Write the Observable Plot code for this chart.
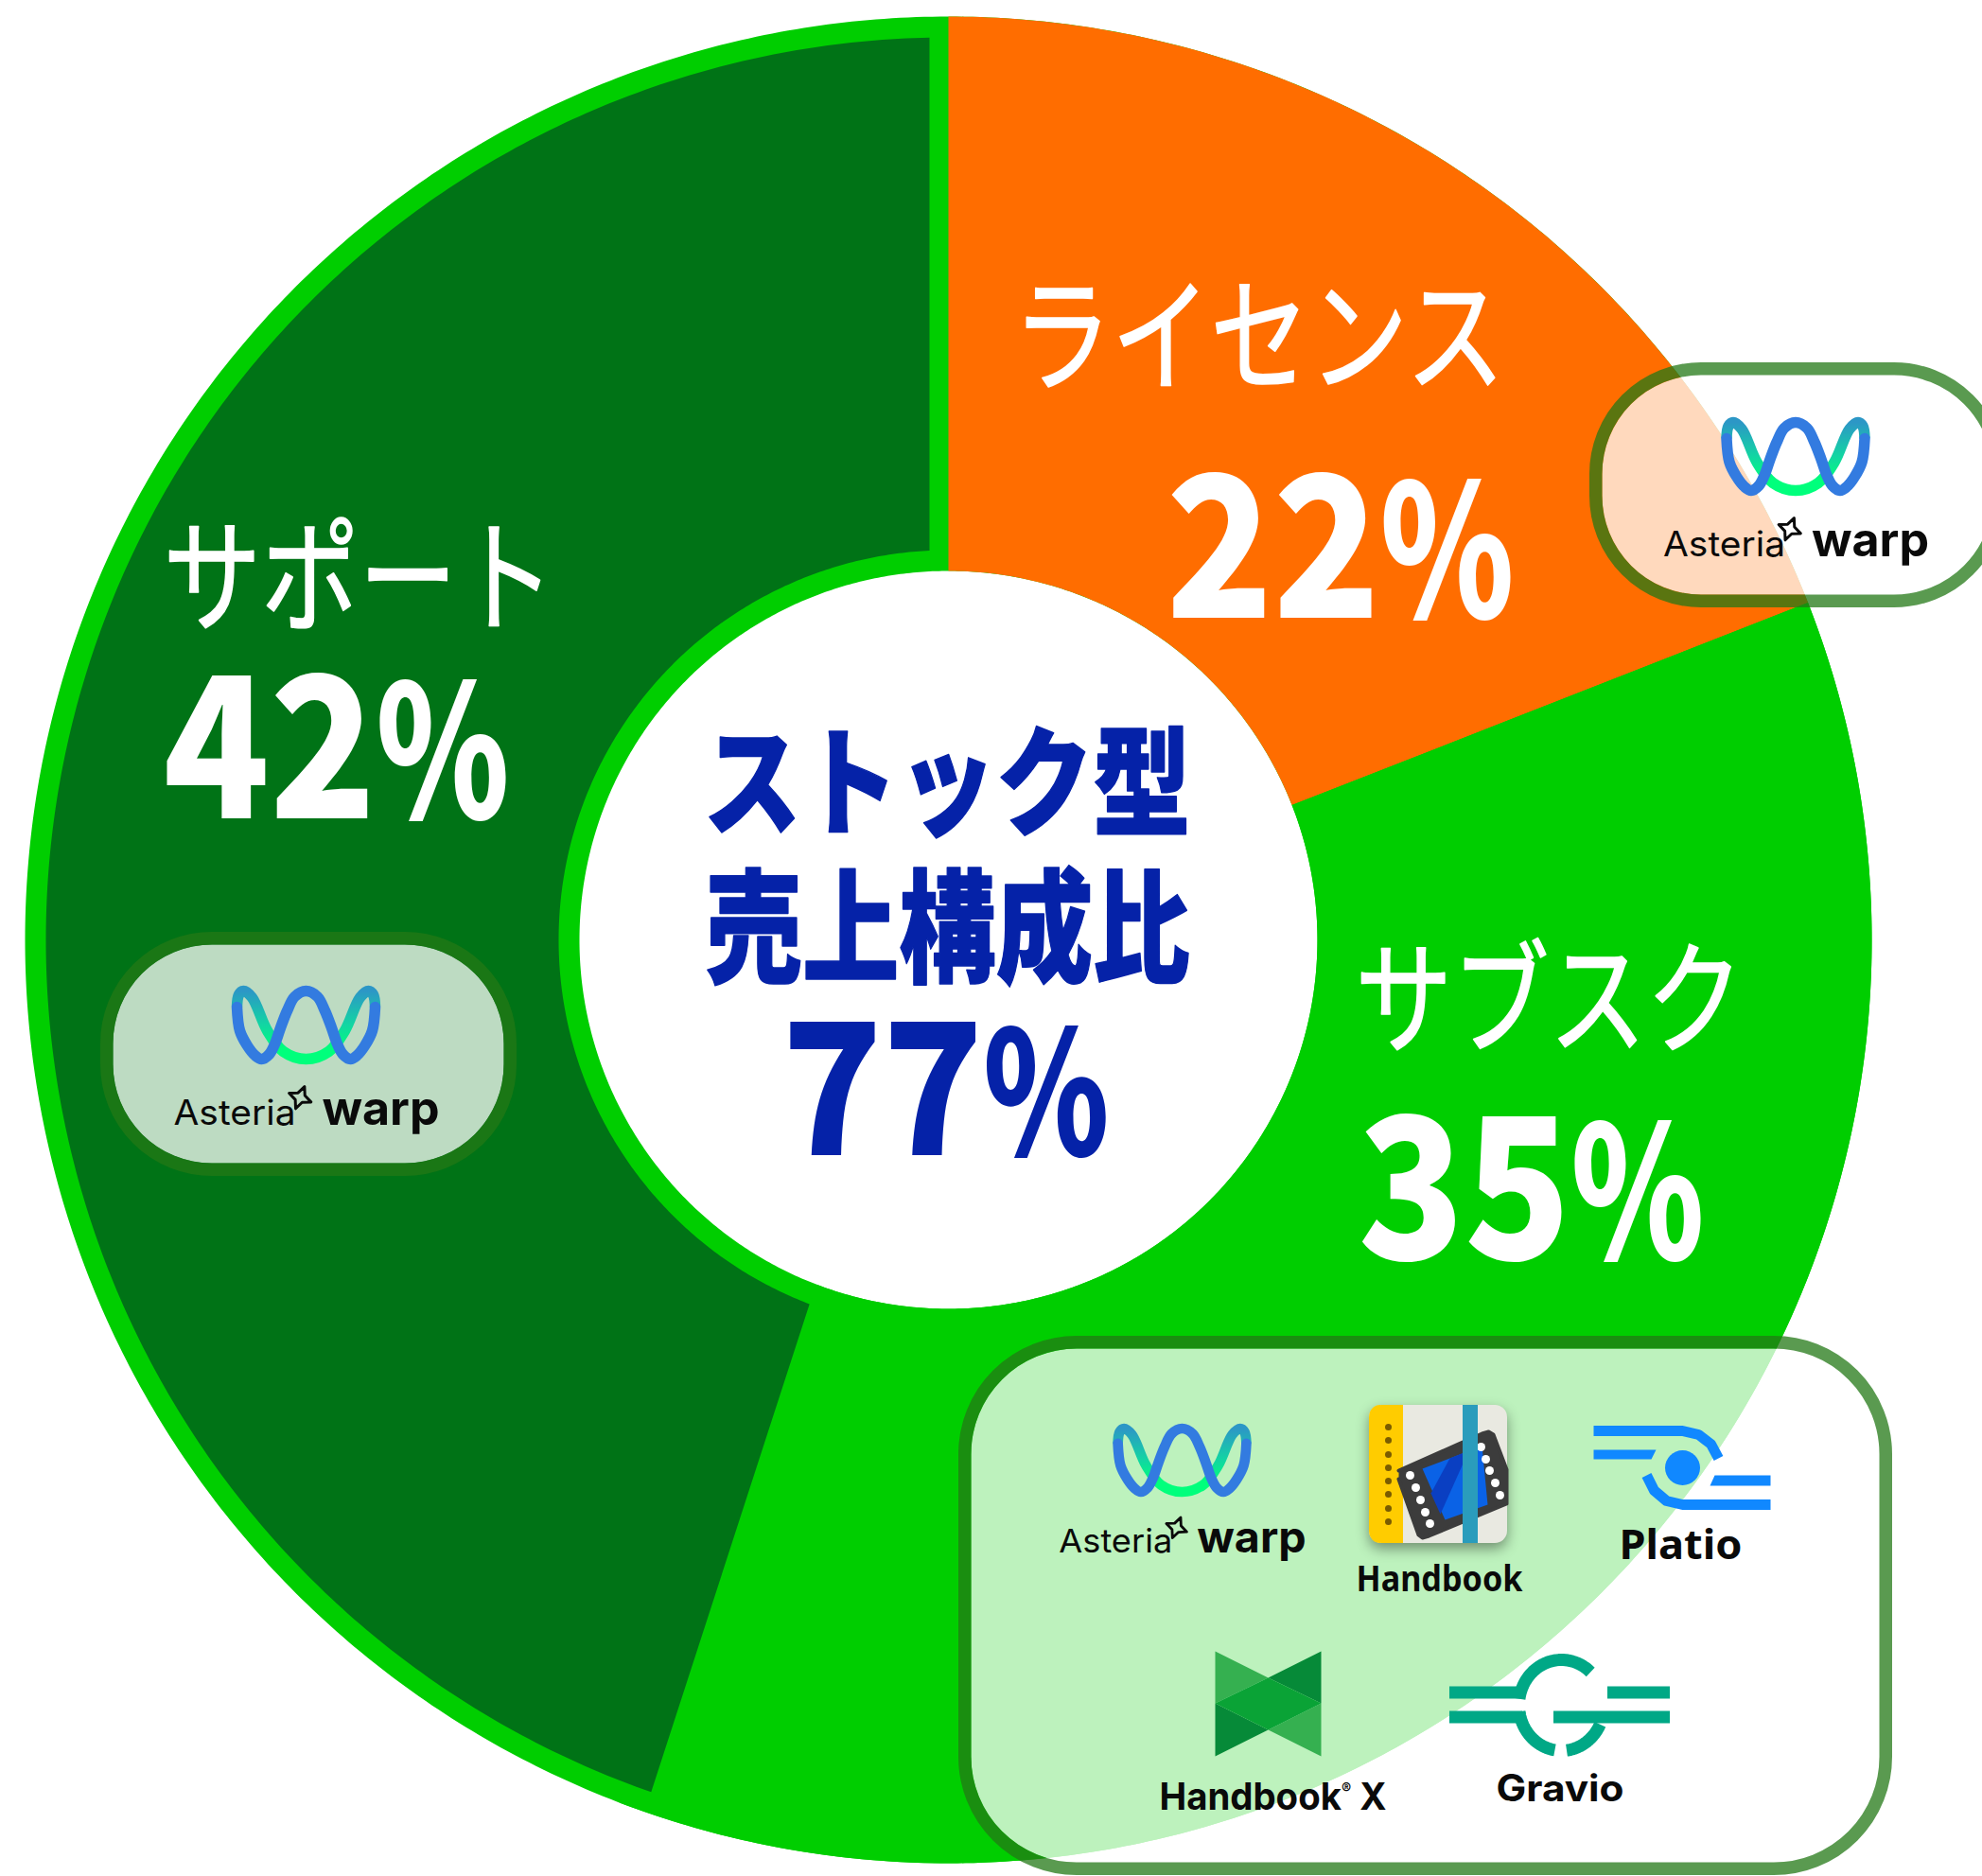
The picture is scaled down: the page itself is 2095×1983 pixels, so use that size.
<!DOCTYPE html>
<html><head><meta charset="utf-8">
<script src="https://cdn.jsdelivr.net/npm/d3@7"></script>
<script src="https://cdn.jsdelivr.net/npm/@observablehq/plot@0.6"></script>
<style>html,body{margin:0;padding:0;background:#fff}svg{display:block}</style>
</head><body><div id="chart"></div>
<script>
// ---- chart values ----
const categories = ["ライセンス", "サブスク", "サポート"];
const labelPercents = [22, 35, 42];
const stockLabel = ["ストック型", "売上構成比"];
const stockPercent = 77;
// slice sweep as drawn in the picture (percent of the full circle)
const drawnShares = [19.05, 36.75, 44.2];
const sliceColors = ["#FF6D00", "#00CE00", "#007316"];
const ringColor = "#00CE00";
const titleColor = "#0522A8";
const productNames = ["Platio", "Handbook", "Handbook® X", "Gravio"];

// ---- logo outlines (local units, wave centred on 0,0) ----
const waveBlue = [[-73,-19],[-70,6],[-62,22],[-54,32],[-47,36],[-39,31],[-33,20],[-27,3],[-20,-15],[-12,-30],[0,-36],[12,-30],[20,-15],[27,3],[33,20],[39,31],[47,36],[54,32],[62,22],[70,6],[73,-19]];
const waveTeal = [[-73,-19],[-71,-32],[-66,-36],[-57,-29],[-41,6],[-24,28],[0,36],[24,28],[41,6],[57,-29],[66,-36],[71,-32],[73,-19]];

const W = 2095, H = 1983, CX = 1002, CY = 993;
const R0 = 390, R1 = 976, DARK0 = 412, DARK1 = 954, DARKEDGE = 20, DARKTIP = 1.65;

const polar = (r, deg) => [CX + r * Math.sin(deg * Math.PI / 180), CY - r * Math.cos(deg * Math.PI / 180)];
const arc = (r, a0, a1) => { const n = Math.max(2, Math.ceil(Math.abs(a1 - a0) * 2)); return d3.range(n + 1).map(i => polar(r, a0 + (a1 - a0) * i / n)); };
const ends = [0, ...d3.cumsum(drawnShares)].map(v => v * 3.6);

const poly = (pts, fill, o = {}) => Plot.line(pts, {x: d => d[0], y: d => d[1], fill, stroke: "none", ...o});
const path = (pts, stroke, strokeWidth, o = {}) => Plot.line(pts, {x: d => d[0], y: d => d[1], stroke, strokeWidth, strokeLinecap: "butt", ...o});
const rect = (x1, x2, y1, y2, o) => Plot.rect([0], {x1: () => x1, x2: () => x2, y1: () => y1, y2: () => y2, ...o});
const dots = (pts, r, fill) => Plot.dot(pts, {x: d => d[0], y: d => d[1], r, fill, stroke: "none"});

const CJK = "Noto Sans CJK JP";
const texts = [];
const T = (text, x, y, size, w, weight, fill, family = CJK, sw = 0) => texts.push({text, x, y, size, w, weight, fill, family, sw});

// slices
const marks = [];
marks.push(() => {
  const defs = d3.create("svg:defs");
  const g = defs.append("linearGradient").attr("id", "waveGrad").attr("x1", 0).attr("y1", 0).attr("x2", 0).attr("y2", 1);
  [[0, "#2C97C6"], [0.5, "#12D6A2"], [0.85, "#00FF7C"], [1, "#00FF7C"]].forEach(([o, c]) => g.append("stop").attr("offset", o).attr("stop-color", c));
  return defs.node();
});
marks.push(poly([...arc(R1, 0, 360), ...arc(R0, 360, 0)], ringColor));
marks.push(poly([...arc(R1, ends[0], ends[1]), ...arc(R0, ends[1], ends[0])], sliceColors[0]));
marks.push(poly([...arc(R1, ends[1], ends[2]), ...arc(R0, ends[2], ends[1])], sliceColors[1]));
{
  const outerEnd = 360 - Math.asin(DARKEDGE / DARK1) * 180 / Math.PI;
  const innerEnd = 360 - Math.asin(DARKEDGE / DARK0) * 180 / Math.PI;
  marks.push(poly([...arc(DARK1, ends[2] - DARKTIP, outerEnd), ...arc(DARK0, innerEnd, ends[2])], sliceColors[2]));
}

// pills
const PILL_STROKE = "rgb(35,120,21)", SW = 13.5;
function pill(x0, x1, y0, y1, r) {
  marks.push(rect(x0 + SW, x1 - SW, y0 + SW, y1 - SW, {rx: r - SW, ry: r - SW, fill: "#fff", fillOpacity: 0.74}));
  marks.push(rect(x0 + SW / 2, x1 - SW / 2, y0 + SW / 2, y1 - SW / 2, {rx: r - SW / 2, ry: r - SW / 2, fill: "none", stroke: PILL_STROKE, strokeOpacity: 0.75, strokeWidth: SW}));
}
pill(1680, 2120, 383, 642, 118);
pill(106, 546, 985, 1243, 118);
pill(1013, 2000, 1412, 1982, 125);

// Asteria Warp logo
function logo(cx, cy, k) {
  const t = pts => pts.map(([a, b]) => [cx + a * k, cy + b * k]);
  marks.push(path(t(waveTeal), "url(#waveGrad)", 11.5 * k, {curve: "catmull-rom"}));
  marks.push(path(t(waveBlue), "#337BE0", 11.5 * k, {curve: "catmull-rom", strokeLinecap: "round"}));
  const sx = -6.3, sy = 76.7;
  const star = d3.range(8).map(i => {
    const a = (i * 45 + 22) * Math.PI / 180, r = i % 2 ? 5.5 : 12.5;
    return [sx + r * Math.sin(a), sy - r * Math.cos(a)];
  });
  marks.push(path(t(star), "#0a0a0a", 3 * k, {curve: "linear-closed", strokeLinejoin: "round"}));
  T("Asteria", cx - 140 * k, cy + 105 * k, 37 * k, 129 * k, 400, "#0a0a0a", "Inter");
  T("warp", cx + 17 * k, cy + 105 * k, 50 * k, 124 * k, 700, "#0a0a0a", "Inter");
}
logo(1897.5, 482, 1);
logo(323, 1083, 1);
logo(1249, 1543, 0.93);

// Handbook icon
marks.push(rect(1447, 1593, 1485, 1631, {rx: 13, ry: 13, fill: "#E9E9E1", imageFilter: "drop-shadow(0 6px 7px rgba(0,0,0,.4))"}));
marks.push(rect(1447, 1470, 1485, 1631, {rx: 13, ry: 13, fill: "#FFCC00"}));
marks.push(rect(1460, 1483, 1485, 1631, {fill: "#FFCC00"}));
marks.push(dots([1508, 1522, 1537, 1551, 1565, 1579, 1594, 1608].map(y => [1467, y]), 3.5, "#7A5C00"));
marks.push(poly([[1478, 1554], [1566, 1515], [1573, 1513], [1578, 1516], [1592, 1553], [1592, 1589], [1510, 1623], [1503, 1625], [1499, 1622], [1478, 1563]], "#3C3C3C", {stroke: "#3C3C3C", strokeWidth: 4}));
marks.push(poly([[1503, 1552], [1566, 1528], [1572, 1590], [1527, 1606]], "#0A62E6"));
marks.push(poly([[1532, 1541], [1552, 1533], [1522, 1600], [1512, 1578]], "#0A3FC2"));
marks.push(dots([[1490, 1559], [1496, 1572], [1501, 1585], [1506, 1598], [1511, 1610], [1565, 1529], [1570, 1542], [1574, 1554], [1580, 1567], [1585, 1580]], 4.5, "#fff"));
marks.push(rect(1546, 1562, 1485, 1631, {fill: "#2A9CBC"}));
T(productNames[1], 1433, 1681, 37, 176, 700, "#0a0a0a", "Noto Sans");

// Platio icon
const BLUE = "#1088FF";
marks.push(path([[1684, 1512], [1778, 1512], [1795, 1516], [1808, 1526], [1816, 1541]], BLUE, 11));
marks.push(poly([[1684, 1532], [1750, 1532], [1745, 1542], [1684, 1542]], BLUE));
marks.push(dots([[1778, 1551]], 18.5, BLUE));
marks.push(poly([[1812, 1559], [1871, 1559], [1871, 1570], [1807, 1570]], BLUE));
marks.push(path([[1740, 1559], [1748, 1575], [1761, 1586], [1778, 1590], [1871, 1590]], BLUE, 11));
T(productNames[0], 1711, 1647, 43, 130, 700, "#0a0a0a", "Noto Sans");

// Handbook X icon
marks.push(poly([[1284, 1745], [1340, 1773], [1284, 1800]], "#35B050"));
marks.push(poly([[1396, 1745], [1340, 1773], [1396, 1800]], "#068A38"));
marks.push(poly([[1284, 1800], [1340, 1828], [1284, 1856]], "#068A38"));
marks.push(poly([[1396, 1800], [1340, 1828], [1396, 1856]], "#35B050"));
marks.push(poly([[1284, 1800], [1340, 1773], [1396, 1800], [1340, 1828]], "#0AA336"));
T(productNames[2], 1225, 1912, 40, 240, 700, "#0a0a0a", "Inter");

// Gravio icon
const TEAL = "#00A886";
const gArc = (a0, a1) => d3.range(41).map(i => { const a = (a0 + (a1 - a0) * i / 40) * Math.PI / 180; return [1650 + 45 * Math.cos(a), 1802 + 48 * Math.sin(a)]; });
marks.push(path(gArc(-47, -172), TEAL, 13));
marks.push(path(gArc(172, 99), TEAL, 13));
marks.push(path(gArc(83, 25), TEAL, 13));
for (const [a, b, y] of [[1532, 1609, 1789], [1532, 1609, 1815], [1699, 1765, 1789], [1642, 1765, 1815]])
  marks.push(rect(a, b, y - 6.5, y + 6.5, {fill: TEAL}));
T(productNames[3], 1581, 1903, 39, 135, 700, "#0a0a0a", "Inter");

// labels
T(categories[0], 1070, 402, 132, 520, 400, "#fff", CJK, 1.6);
T(labelPercents[0] + "%", 1232, 652, 208, 368, 900, "#fff");
T(categories[1], 1432, 1102, 130, 410, 400, "#fff", CJK, 1.6);
T(labelPercents[1] + "%", 1435, 1330, 208, 366, 900, "#fff");
T(categories[2], 172, 656, 130, 414, 400, "#fff", CJK, 1.6);
T(labelPercents[2] + "%", 172, 864, 208, 366, 900, "#fff");
T(stockLabel[0], 743, 872, 125, 515, 900, titleColor, CJK, 1.5);
T(stockLabel[1], 745, 1027, 130, 512, 900, titleColor, CJK, 1.5);
T(stockPercent + "%", 826, 1220, 194, 346, 900, titleColor);

for (const d of texts) marks.push(Plot.text([d], {
  x: "x", y: "y", text: "text", textAnchor: "start", lineAnchor: "bottom",
  fontSize: d.size, fontWeight: d.weight, fontFamily: d.family, fill: d.fill,
  ...(d.sw ? {stroke: d.fill, strokeWidth: d.sw} : {})
}));

const chart = Plot.plot({
  width: W, height: H, margin: 0,
  x: {domain: [0, W], range: [0, W], axis: null},
  y: {domain: [0, H], range: [0, H], axis: null},
  style: {background: "transparent"},
  marks
});

// fit each text to the width it has in the picture; digits and the percent sign get their own widths
const NS = "http://www.w3.org/2000/svg";
const span = (s, attrs) => { const e = document.createElementNS(NS, "tspan"); e.textContent = s; for (const k in attrs) e.setAttribute(k, attrs[k]); return e; };
chart.querySelectorAll("text").forEach((el, i) => {
  const d = texts[i];
  if (!d) return;
  if (d.text.endsWith("%")) {
    el.textContent = "";
    el.append(
      span(d.text.slice(0, -1), {textLength: d.w * 0.615, lengthAdjust: "spacingAndGlyphs"}),
      span("%", {textLength: d.w * 0.385, lengthAdjust: "spacingAndGlyphs", "font-size": d.size * 0.93})
    );
  } else if (d.text.includes("®")) {
    const [a, b] = d.text.split("®");
    el.textContent = "";
    el.append(span(a, {}), span("®", {"font-size": d.size * 0.4, dy: -d.size * 0.42}), span(b, {dy: d.size * 0.42}));
    el.setAttribute("textLength", d.w);
    el.setAttribute("lengthAdjust", "spacingAndGlyphs");
  } else {
    el.setAttribute("textLength", d.w);
    el.setAttribute("lengthAdjust", "spacingAndGlyphs");
  }
});
document.getElementById("chart").append(chart);
</script></body></html>
